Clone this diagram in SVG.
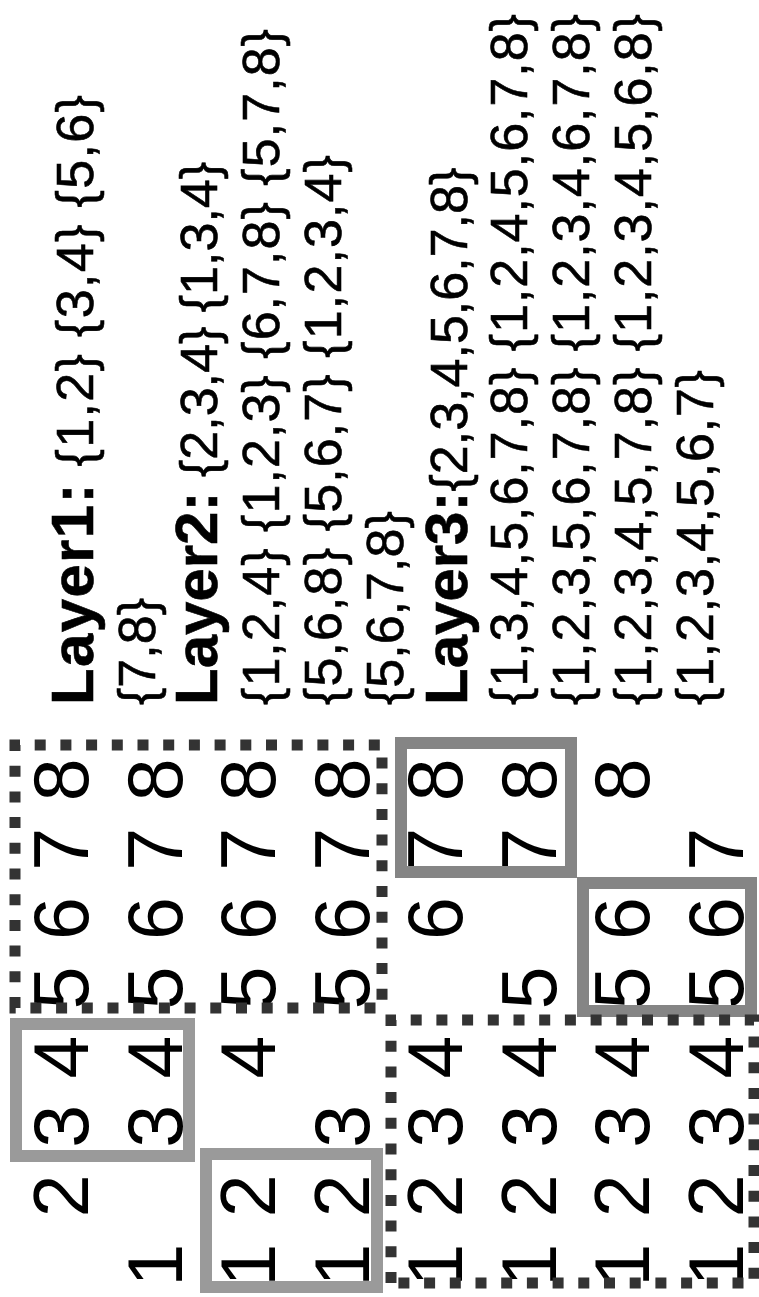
<svg xmlns="http://www.w3.org/2000/svg" width="759" height="1297" viewBox="0 0 759 1297">
<style>
.d{font-family:"Liberation Sans",Arial,sans-serif;font-size:77px;fill:#000;text-anchor:middle}
.t{font-family:"Liberation Sans",Arial,sans-serif;font-size:52px;fill:#000;stroke:#000;stroke-width:0.6}
.b{font-weight:bold;font-size:60px}
.gA{fill:none;stroke:#9a9a9a;stroke-width:12}
.gB{fill:none;stroke:#858585;stroke-width:12}
.dot{fill:none;stroke:#333;stroke-width:11;stroke-dasharray:11 14.7}
</style>
<rect width="759" height="1297" fill="#fff"/>
<g transform="translate(0,1297) rotate(-90)">
<g id="matrix">
<g id="row1"><text class="d" x="101.3" y="88">2</text><text class="d" x="170.6" y="88">3</text><text class="d" x="239.9" y="88">4</text><text class="d" x="309.2" y="88">5</text><text class="d" x="378.5" y="88">6</text><text class="d" x="447.8" y="88">7</text><text class="d" x="517.1" y="88">8</text></g>
<g id="row2"><text class="d" x="32" y="181.5">1</text><text class="d" x="170.6" y="181.5">3</text><text class="d" x="239.9" y="181.5">4</text><text class="d" x="309.2" y="181.5">5</text><text class="d" x="378.5" y="181.5">6</text><text class="d" x="447.8" y="181.5">7</text><text class="d" x="517.1" y="181.5">8</text></g>
<g id="row3"><text class="d" x="32" y="275">1</text><text class="d" x="101.3" y="275">2</text><text class="d" x="239.9" y="275">4</text><text class="d" x="309.2" y="275">5</text><text class="d" x="378.5" y="275">6</text><text class="d" x="447.8" y="275">7</text><text class="d" x="517.1" y="275">8</text></g>
<g id="row4"><text class="d" x="32" y="368.5">1</text><text class="d" x="101.3" y="368.5">2</text><text class="d" x="170.6" y="368.5">3</text><text class="d" x="309.2" y="368.5">5</text><text class="d" x="378.5" y="368.5">6</text><text class="d" x="447.8" y="368.5">7</text><text class="d" x="517.1" y="368.5">8</text></g>
<g id="row5"><text class="d" x="32" y="462">1</text><text class="d" x="101.3" y="462">2</text><text class="d" x="170.6" y="462">3</text><text class="d" x="239.9" y="462">4</text><text class="d" x="378.5" y="462">6</text><text class="d" x="447.8" y="462">7</text><text class="d" x="517.1" y="462">8</text></g>
<g id="row6"><text class="d" x="32" y="555.5">1</text><text class="d" x="101.3" y="555.5">2</text><text class="d" x="170.6" y="555.5">3</text><text class="d" x="239.9" y="555.5">4</text><text class="d" x="309.2" y="555.5">5</text><text class="d" x="447.8" y="555.5">7</text><text class="d" x="517.1" y="555.5">8</text></g>
<g id="row7"><text class="d" x="32" y="649">1</text><text class="d" x="101.3" y="649">2</text><text class="d" x="170.6" y="649">3</text><text class="d" x="239.9" y="649">4</text><text class="d" x="309.2" y="649">5</text><text class="d" x="378.5" y="649">6</text><text class="d" x="517.1" y="649">8</text></g>
<g id="row8"><text class="d" x="32" y="742.5">1</text><text class="d" x="101.3" y="742.5">2</text><text class="d" x="170.6" y="742.5">3</text><text class="d" x="239.9" y="742.5">4</text><text class="d" x="309.2" y="742.5">5</text><text class="d" x="378.5" y="742.5">6</text><text class="d" x="447.8" y="742.5">7</text></g>
</g>
<g id="boxes">
<rect id="boxA" class="gA" x="141" y="16" width="132" height="173"/>
<rect id="boxB" class="gA" x="10" y="206" width="133" height="171"/>
<rect id="boxC" class="dot" x="289" y="15" width="263" height="367"/>
<rect id="boxD" class="gB" x="425" y="401" width="129" height="170"/>
<rect id="boxE" class="gB" x="286" y="583" width="128" height="168"/>
<rect id="boxF" class="dot" x="14" y="391" width="263" height="363"/>
</g>
<g id="layers">
<text class="t" x="592" y="93" textLength="610"><tspan class="b">Layer1:</tspan> {1,2} {3,4} {5,6}</text>
<text class="t" x="592" y="155">{7,8}</text>
<text class="t" x="592" y="217"><tspan class="b">Layer2:</tspan> {2,3,4} {1,3,4}</text>
<text class="t" x="592" y="279" textLength="676">{1,2,4} {1,2,3} {6,7,8} {5,7,8}</text>
<text class="t" x="592" y="341" textLength="550">{5,6,8} {5,6,7} {1,2,3,4}</text>
<text class="t" x="592" y="403">{5,6,7,8}</text>
<text class="t" x="592" y="467"><tspan class="b">Layer3:</tspan>{2,3,4,5,6,7,8}</text>
<text class="t" x="592" y="527" textLength="691">{1,3,4,5,6,7,8} {1,2,4,5,6,7,8}</text>
<text class="t" x="592" y="589" textLength="691">{1,2,3,5,6,7,8} {1,2,3,4,6,7,8}</text>
<text class="t" x="592" y="651" textLength="691">{1,2,3,4,5,7,8} {1,2,3,4,5,6,8}</text>
<text class="t" x="592" y="713" textLength="335">{1,2,3,4,5,6,7}</text>
</g>
</g>
</svg>
